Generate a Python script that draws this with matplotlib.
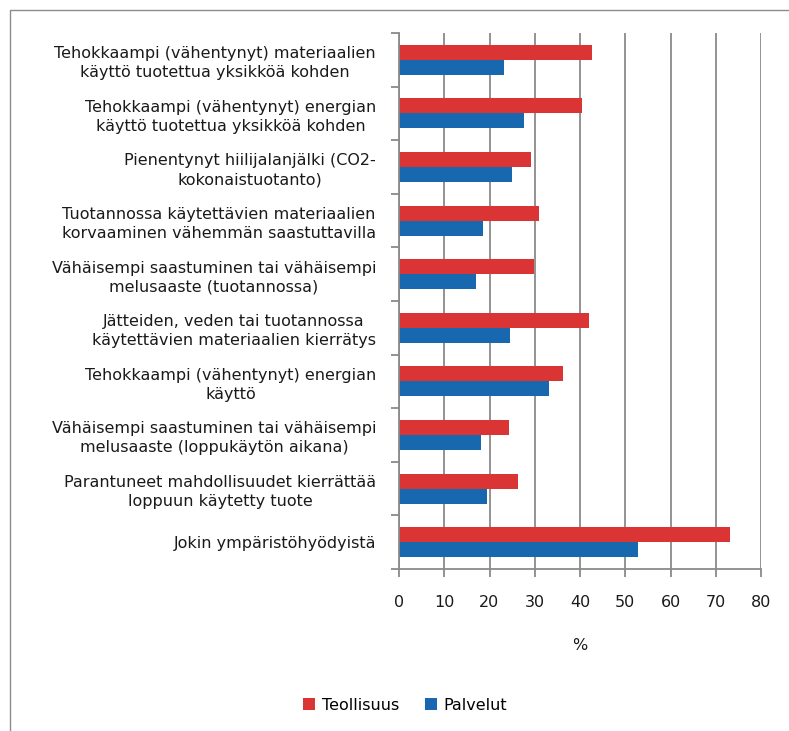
import matplotlib
matplotlib.use("Agg")
import matplotlib.pyplot as plt
import numpy as np
from matplotlib.patches import Rectangle, Patch

categories = [
    "Tehokkaampi (vähentynyt) materiaalien\nkäyttö tuotettua yksikköä kohden",
    "Tehokkaampi (vähentynyt) energian\nkäyttö tuotettua yksikköä kohden",
    "Pienentynyt hiilijalanjälki (CO2-\nkokonaistuotanto)",
    "Tuotannossa käytettävien materiaalien\nkorvaaminen vähemmän saastuttavilla",
    "Vähäisempi saastuminen tai vähäisempi\nmelusaaste (tuotannossa)",
    "Jätteiden, veden tai tuotannossa\nkäytettävien materiaalien kierrätys",
    "Tehokkaampi (vähentynyt) energian\nkäyttö",
    "Vähäisempi saastuminen tai vähäisempi\nmelusaaste (loppukäytön aikana)",
    "Parantuneet mahdollisuudet kierrättää\nloppuun käytetty tuote",
    "Jokin ympäristöhyödyistä",
]
teollisuus = [42.6, 40.5, 29.1, 31.0, 29.9, 42.0, 36.3, 24.2, 26.3, 73.2]
palvelut = [23.2, 27.7, 24.9, 18.5, 17.0, 24.6, 33.1, 18.1, 19.5, 52.9]
series_names = ["Teollisuus", "Palvelut"]
x_ticks = [0, 10, 20, 30, 40, 50, 60, 70, 80]
x_label = "%"

red = "#DA3434"
blue = "#1868B0"
grid = "#8A8A8A"
txt = "#1a1a1a"
fs = 11.5

W, H = 789, 731
fig = plt.figure(figsize=(W / 100, H / 100), dpi=100)
plt.rcParams["font.family"] = ["DejaVu Sans"]

# outer frame
fig.patches.append(Rectangle((9.5 / W, -0.1), 1.2, 1 - 10 / H + 0.1,
                             transform=fig.transFigure, fill=False,
                             edgecolor="#8c8c8c", linewidth=1.0))

ax = fig.add_axes([399 / W, 1 - 569 / H, (761 - 399) / W, (569 - 33) / H])
n = len(categories)
pos = np.arange(n)[::-1]  # first category at top
h = 0.28
ax.barh(pos + h / 2, teollisuus, height=h, color=red, label=series_names[0])
ax.barh(pos - h / 2, palvelut, height=h, color=blue, label=series_names[1])

ax.set_xlim(0, 80)
ax.set_ylim(-0.5, n - 0.5)
ax.set_xticks(x_ticks)
ax.set_xticklabels([str(v) for v in x_ticks], fontsize=fs, color=txt)
ax.xaxis.grid(True, color=grid, linewidth=1.3)
ax.set_axisbelow(True)

ax.set_yticks(pos)
ax.set_yticklabels(categories, fontsize=fs, color=txt, ha="right",
                   multialignment="center", linespacing=1.3)
ax.tick_params(axis="y", which="major", length=0, pad=16.5)
ax.set_yticks(np.arange(-0.5, n, 1.0), minor=True)
ax.tick_params(axis="y", which="minor", length=6, color=grid, width=1.3)
ax.tick_params(axis="x", length=6, color=grid, width=1.3, pad=13)

for s in ["top", "right"]:
    ax.spines[s].set_visible(False)
for s in ["left", "bottom"]:
    ax.spines[s].set_color(grid)
    ax.spines[s].set_linewidth(1.3)

ax.set_xlabel(x_label, fontsize=fs, color=txt, labelpad=20)

handles = [Patch(facecolor=red, label=series_names[0]),
           Patch(facecolor=blue, label=series_names[1])]
fig.legend(handles=handles, loc="center", bbox_to_anchor=(405 / W, 1 - 705 / H),
           ncol=2, frameon=False, fontsize=fs, handlelength=0.75,
           handleheight=0.75, handletextpad=0.4, columnspacing=1.6)

fig.savefig("out.png", dpi=100)
